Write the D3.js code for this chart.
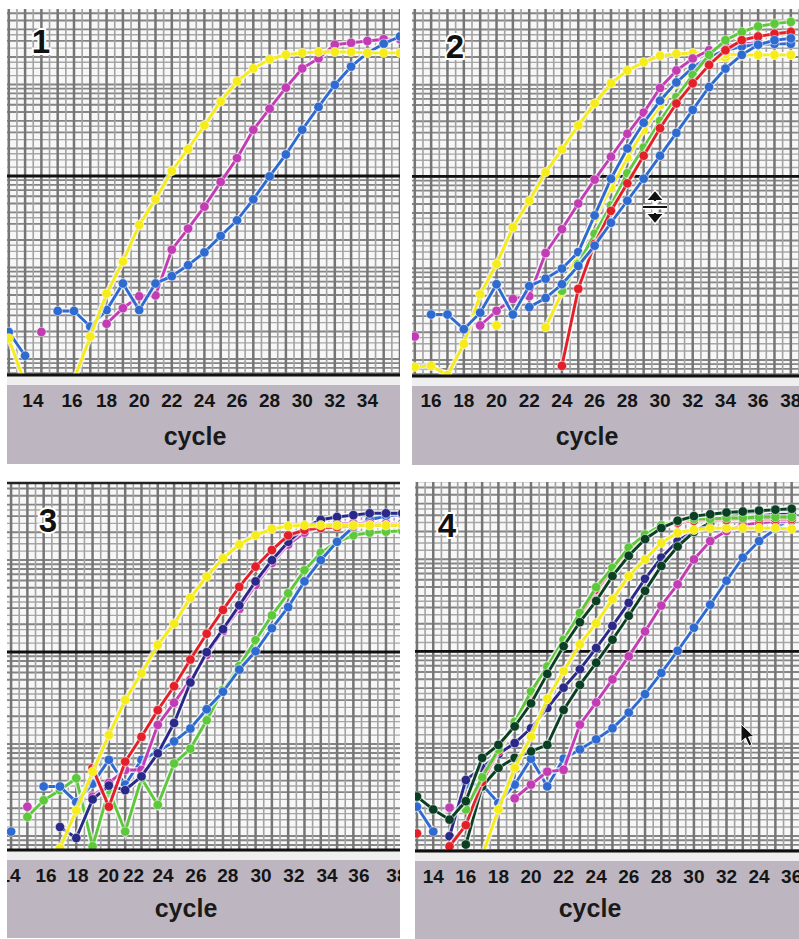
<!DOCTYPE html>
<html><head><meta charset="utf-8">
<script src="https://cdn.jsdelivr.net/npm/d3@7"></script>
<style>body{margin:0;background:#fff}svg{display:block}</style>
</head><body>
<svg id="chart" width="799" height="939"></svg>
<script>
// ---------- DATA (values are log10 of fluorescence) ----------
const cycles1 = [12,13,14,15,16,17,18,19,20,21,22,23,24,25,26,27,28,29,30,31,32,33,34,35,36];
const p1Yellow  = [-2.60,-3.10,-3.10,-3.10,-3.05,-2.58,-2.11,-1.76,-1.36,-1.08,-0.77,-0.53,-0.27,-0.01,0.21,0.35,0.45,0.50,0.52,0.53,0.53,0.53,0.52,0.52,0.52];
const p1Magenta = [null,null,-2.53,null,null,null,-2.44,-2.27,-2.14,-2.13,-1.63,-1.40,-1.16,-0.89,-0.63,-0.32,-0.09,0.14,0.35,0.46,0.61,0.63,0.65,0.67,0.67];
const p1Blue    = [-2.53,-2.79,null,-2.30,-2.30,-2.47,-2.29,-2.00,-2.29,-2.00,-1.92,-1.80,-1.66,-1.48,-1.31,-1.08,-0.83,-0.59,-0.32,-0.07,0.17,0.37,0.52,0.62,0.70];
const tickPos1  = [13.48,15.88,18,20,22,24,26,28,30,32,34];
const tickLab1  = ["14","16","18","20","22","24","26","28","30","32","34"];

const cycles2 = [15,16,17,18,19,20,21,22,23,24,25,26,27,28,29,30,31,32,33,34,35,36,37,38];
const p2YellowA = [-2.90,-2.89,-2.99,-2.65,-2.11,-1.78,-1.38,-1.09,-0.78,-0.53,-0.27,-0.03,0.19,0.33,0.42,0.49,0.51,0.52,0.52,0.51,0.50,0.50,0.50,0.50];
const p2YellowB = [null,null,null,null,null,-2.45,null,null,-2.47,-2.09,-1.65,-1.28,-0.95,-0.62,-0.32,-0.05,0.18,0.33,0.42,0.47,0.49,0.50,0.50,0.50];
const p2Magenta = [-2.57,null,null,null,-2.45,-2.29,-2.16,-2.13,-1.66,-1.40,-1.12,-0.86,-0.61,-0.36,-0.13,0.14,0.33,0.46,0.55,0.60,0.62,0.63,0.64,0.64];
const p2BlueA   = [null,-2.33,-2.33,-2.49,-2.31,-2.00,-2.33,-2.02,-1.94,-1.83,-1.65,-1.25,-0.85,-0.52,-0.24,0.00,0.20,0.36,0.48,0.55,0.59,0.61,0.62,0.62];
const p2BlueB   = [null,null,null,null,null,null,null,-2.25,-2.15,-2.00,-1.80,-1.58,-1.33,-1.09,-0.85,-0.60,-0.35,-0.10,0.15,0.35,0.50,0.61,0.66,0.68];
const p2Red     = [null,null,null,null,null,null,null,null,null,-2.89,-2.05,-1.56,-1.20,-0.90,-0.60,-0.30,-0.03,0.19,0.39,0.55,0.66,0.70,0.73,0.75];
const p2Green   = [null,null,null,null,null,null,null,null,null,-2.07,-1.78,-1.45,-1.14,-0.79,-0.51,-0.22,0.04,0.28,0.50,0.66,0.75,0.81,0.84,0.86];
const tickPos2  = [16,18,20,22,24,26,28,30,32,34,36,38];
const tickLab2  = ["16","18","20","22","24","26","28","30","32","34","36","38"];

const cycles3 = [14,15,16,17,18,19,20,21,22,23,24,25,26,27,28,29,30,31,32,33,34,35,36,37,38];
const p3Yellow  = [null,null,-3.30,-2.98,-2.57,-2.15,-1.75,-1.37,-1.08,-0.77,-0.54,-0.26,-0.03,0.17,0.32,0.42,0.49,0.52,0.53,0.53,0.53,0.53,0.53,0.53,0.53];
const p3Red     = [null,null,null,null,null,-2.11,-2.53,-2.04,-1.77,-1.48,-1.22,-0.93,-0.65,-0.39,-0.14,0.08,0.26,0.42,0.48,0.50,0.51,0.52,0.53,0.53,0.53];
const p3Navy    = [null,null,null,-2.75,-2.87,-2.45,-2.30,-2.35,-2.20,-1.95,-1.62,-1.18,-0.85,-0.60,-0.34,-0.08,0.15,0.35,0.50,0.59,0.62,0.64,0.66,0.66,0.66];
const p3Magenta = [null,-2.53,null,null,null,-2.42,-2.27,-2.13,-2.13,-1.64,-1.40,-1.15,-0.88,-0.62,-0.38,-0.12,0.12,0.32,0.45,0.52,0.55,0.55,0.55,0.55,0.55];
const p3Blue    = [-2.80,null,-2.31,-2.31,-2.48,-2.28,-2.02,-2.29,-2.02,-1.93,-1.82,-1.68,-1.47,-1.28,-1.04,-0.84,-0.59,-0.36,-0.08,0.15,0.35,0.51,0.59,0.63,0.65];
const p3Green   = [null,-2.64,-2.46,-2.35,-2.22,-2.96,-2.35,-2.80,-2.22,-2.51,-2.06,-1.90,-1.59,-1.26,-1.00,-0.72,-0.45,-0.21,0.04,0.23,0.35,0.42,0.45,0.46,0.47];
const tickPos3  = [13.93,16.14,18.1,19.98,21.51,23.32,25.34,27.3,29.33,31.35,33.38,35.34,37.67];
const tickLab3  = ["14","16","18","20","22","24","26","28","30","32","34","36","38"];

const cycles4 = [13,14,15,16,17,18,19,20,21,22,23,24,25,26,27,28,29,30,31,32,33,34,35,36];
const p4Green   = [null,null,null,-2.55,-2.20,-1.90,-1.60,-1.27,-1.00,-0.71,-0.42,-0.14,0.07,0.29,0.43,0.53,0.58,0.60,0.60,0.61,0.61,0.62,0.62,0.62];
const p4Red     = [-2.81,null,-2.95,-2.72,-2.25,-1.92,-1.62,-1.30,-1.02,-0.73,-0.45,-0.17,0.04,0.26,0.41,0.51,0.56,0.58,0.59,0.59,0.60,0.60,0.60,0.60];
const p4DarkA   = [-2.41,-2.55,-2.66,-2.46,-1.99,-1.85,-1.65,-1.40,-1.08,-0.78,-0.52,-0.29,-0.02,0.20,0.38,0.50,0.58,0.63,0.65,0.67,0.68,0.69,0.70,0.71];
const p4DarkB   = [null,null,null,-2.93,-2.30,-2.10,-1.99,-1.92,-1.85,-1.47,-1.20,-0.96,-0.71,-0.45,-0.18,0.09,0.30,0.46,0.56,0.62,0.66,0.68,0.70,0.70];
const p4Yellow  = [null,null,null,null,-3.05,-2.55,-2.10,-1.76,-1.35,-1.05,-0.76,-0.53,-0.27,-0.02,0.16,0.34,0.45,0.48,0.50,0.50,0.50,0.50,0.50,0.49];
const p4Navy    = [null,null,-2.84,-2.23,-2.10,-1.95,-1.83,-1.67,-1.45,-1.23,-1.03,-0.80,-0.56,-0.31,-0.05,0.18,0.36,0.47,0.55,0.60,0.62,0.64,0.65,0.65];
const p4Magenta = [null,null,-2.53,null,null,null,-2.43,-2.28,-2.14,-2.12,-1.63,-1.39,-1.14,-0.89,-0.62,-0.34,-0.11,0.16,0.36,0.47,0.53,0.56,0.57,0.58];
const p4Blue    = [-2.52,-2.79,null,-2.28,-2.28,-2.48,-2.28,-2.00,-2.30,-2.00,-1.90,-1.79,-1.67,-1.50,-1.30,-1.07,-0.83,-0.58,-0.33,-0.07,0.18,0.36,0.49,0.62];
const tickPos4  = [14,16,18,20,22,24,26,28,30,32,34,36];
const tickLab4  = ["14","16","18","20","22","24","26","28","30","32","24","36"];

const thresholds = [-0.825,-0.825,-0.848,-0.837];
const panelNames = ["1","2","3","4"];
const axisTitle = "cycle";

// ---------- STYLE / LAYOUT ----------
const colors = {yellow:"#f5ec1a", magenta:"#c23db4", blue:"#2e6ad0", red:"#e3202a",
  green:"#5cc83a", navy:"#2a2888", dark:"#0a3f24"};

const panels = [
  {cycles:cycles1, series:[["magenta",p1Magenta],["blue",p1Blue],["yellow",p1Yellow]],
   tickPos:tickPos1, tickLab:tickLab1, x0:7, x1:400, top:9, axis:375, foot:464, dom:[11.89,36],
   num:[41,53], tickY:407, cyc:[195,445], topLine:false},
  {cycles:cycles2, series:[["yellow",p2YellowB],["yellow",p2YellowA],["magenta",p2Magenta],["blue",p2BlueA],["green",p2Green],["red",p2Red],["blue",p2BlueB]],
   tickPos:tickPos2, tickLab:tickLab2, x0:412, x1:799, top:9, axis:376, foot:465, dom:[14.83,38.5],
   num:[455,58], tickY:407, cyc:[587,445], topLine:false},
  {cycles:cycles3, series:[["green",p3Green],["blue",p3Blue],["magenta",p3Magenta],["navy",p3Navy],["red",p3Red],["yellow",p3Yellow]],
   tickPos:tickPos3, tickLab:tickLab3, x0:7, x1:400, top:482, axis:850, foot:938, dom:[13.75,37.86],
   num:[48,532], tickY:882, cyc:[186,917], topLine:true},
  {cycles:cycles4, series:[["blue",p4Blue],["magenta",p4Magenta],["navy",p4Navy],["dark",p4DarkB],["yellow",p4Yellow],["red",p4Red],["green",p4Green],["dark",p4DarkA]],
   tickPos:tickPos4, tickLab:tickLab4, x0:415, x1:799, top:482, axis:851, foot:939, dom:[12.88,36.45],
   num:[447,537], tickY:883, cyc:[590,917], topLine:false}
];

const svg = d3.select("#chart");
const defs = svg.append("defs");
const FONT = "'Liberation Sans', Arial, Helvetica, sans-serif";
const mults = [1,1.25,1.5,1.75,2,2.5,3,3.5,4,5,6,7,8,9];

panels.forEach((p,i)=>{
  const x = d3.scaleLinear().domain(p.dom).range([p.x0,p.x1]);
  const y = d3.scaleLinear().domain([-3,1]).range([p.axis,p.top]);
  const g = svg.append("g");
  const cid = "clip"+i, fid = "fclip"+i;
  defs.append("clipPath").attr("id",cid).append("rect")
    .attr("x",p.x0).attr("y",p.top).attr("width",p.x1-p.x0).attr("height",p.axis-p.top);
  defs.append("clipPath").attr("id",fid).append("rect")
    .attr("x",p.x0).attr("y",p.axis).attr("width",p.x1-p.x0).attr("height",p.foot-p.axis);

  g.append("rect").attr("x",p.x0).attr("y",p.top).attr("width",p.x1-p.x0)
    .attr("height",p.axis-p.top).attr("fill","#f7f7f7");

  const grid = g.append("g").attr("clip-path",`url(#${cid})`);
  const hs = [];
  for (let n=-5;n<=4;n++) mults.forEach(k=>{
    const v = thresholds[i] + n + Math.log10(k);
    if (v>-3.05 && v<1.05) hs.push({v, major:Number.isInteger(k)});
  });
  grid.selectAll("line.h").data(hs).join("line")
    .attr("x1",p.x0).attr("x2",p.x1)
    .attr("y1",d=>y(d.v)).attr("y2",d=>y(d.v))
    .attr("stroke",d=>d.major?"#858585":"#a8a8a8")
    .attr("stroke-width",d=>d.major?1.9:1.4);
  const vs = d3.range(Math.ceil(p.dom[0]*2)/2, p.dom[1]+0.01, 0.5);
  grid.selectAll("line.v").data(vs).join("line")
    .attr("x1",d=>x(d)).attr("x2",d=>x(d)).attr("y1",p.top).attr("y2",p.axis)
    .attr("stroke",d=>Number.isInteger(d)?"#757575":"#a2a2a2")
    .attr("stroke-width",d=>Number.isInteger(d)?2.5:1.6);
  grid.append("line").attr("x1",p.x0).attr("x2",p.x1)
    .attr("y1",y(thresholds[i])).attr("y2",y(thresholds[i]))
    .attr("stroke","#111").attr("stroke-width",2.8);

  const sg = g.append("g").attr("clip-path",`url(#${cid})`);
  const line = d3.line().defined(d=>d[1]!==null).x(d=>x(d[0])).y(d=>y(d[1]));
  p.series.forEach(([col,vals])=>{
    const pts = p.cycles.map((c,j)=>[c,vals[j]]);
    sg.append("path").attr("d",line(pts)).attr("fill","none")
      .attr("stroke","#fff").attr("stroke-opacity",0.7).attr("stroke-width",6);
    sg.append("path").attr("d",line(pts)).attr("fill","none")
      .attr("stroke",colors[col]).attr("stroke-width",2.9);
    sg.selectAll(null).data(pts.filter(d=>d[1]!==null)).join("circle")
      .attr("cx",d=>x(d[0])).attr("cy",d=>y(d[1])).attr("r",4.7)
      .attr("fill",colors[col]).attr("stroke","#fff").attr("stroke-opacity",0.5).attr("stroke-width",1);
  });

  if (p.topLine) g.append("line").attr("x1",p.x0).attr("x2",p.x1).attr("y1",p.top+1).attr("y2",p.top+1)
    .attr("stroke","#222").attr("stroke-width",2.5);

  g.append("rect").attr("x",p.x0).attr("y",p.axis).attr("width",p.x1-p.x0).attr("height",10).attr("fill","#efefef");
  g.append("rect").attr("x",p.x0).attr("y",p.axis+10).attr("width",p.x1-p.x0)
    .attr("height",p.foot-p.axis-10).attr("fill","#bdb6c0");
  const ax = g.append("g").attr("transform",`translate(0,${p.axis})`).attr("clip-path",`url(#${fid})`)
    .call(d3.axisBottom(x).tickValues(vs).tickSize(9).tickFormat(""));
  ax.select(".domain").remove();
  ax.selectAll(".tick line").attr("stroke","#111").attr("stroke-width",2.4);
  g.append("line").attr("x1",p.x0).attr("x2",p.x1).attr("y1",p.axis).attr("y2",p.axis)
    .attr("stroke","#111").attr("stroke-width",3.2);

  const ft = g.append("g").attr("clip-path",`url(#${fid})`);
  ft.selectAll("text").data(p.tickPos).join("text")
    .attr("x",d=>x(d)).attr("y",p.tickY).attr("text-anchor","middle")
    .attr("font-family",FONT).attr("font-weight","bold").attr("font-size",19).attr("fill","#151515")
    .text((d,j)=>p.tickLab[j]);
  g.append("text").attr("x",p.cyc[0]).attr("y",p.cyc[1]).attr("text-anchor","middle")
    .attr("font-family",FONT).attr("font-weight","bold").attr("font-size",25).attr("fill","#1a1a1a")
    .text(axisTitle);

  g.append("text").attr("x",p.num[0]).attr("y",p.num[1]).attr("text-anchor","middle")
    .attr("font-family",FONT).attr("font-weight","bold").attr("font-size",33)
    .attr("fill","#111").attr("stroke","#fff").attr("stroke-width",4).attr("paint-order","stroke")
    .text(panelNames[i]);
});

// screen cursors captured in the original picture
const cur = svg.append("g");
cur.append("path").attr("d","M643,207 H667 M655,194 V220 M650,199 L655,193 L660,199 Z M650,215 L655,221 L660,215 Z")
  .attr("stroke","#fff").attr("stroke-width",5).attr("fill","#fff");
cur.append("path").attr("d","M643,207 H667 M655,194 V201 M655,213 V220 M650,199 L655,193 L660,199 Z M650,215 L655,221 L660,215 Z")
  .attr("stroke","#111").attr("stroke-width",2.2).attr("fill","#111");
cur.append("path").attr("d","M741,724 L741,742 L745.5,738 L749,746 L752,744.5 L748.5,737 L754,736.5 Z")
  .attr("fill","#111").attr("stroke","#fff").attr("stroke-width",1);
</script>
</body></html>
